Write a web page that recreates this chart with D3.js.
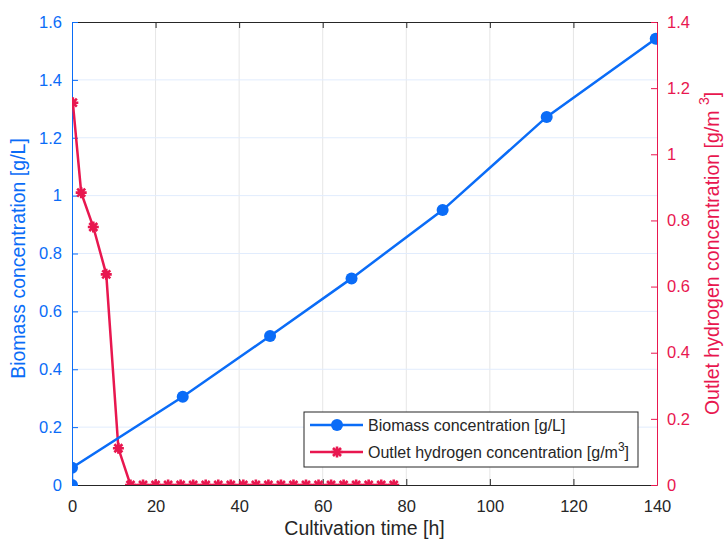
<!DOCTYPE html>
<html>
<head>
<meta charset="utf-8">
<script src="https://cdn.jsdelivr.net/npm/d3@7"></script>
<style>
  body { margin: 0; background: #fff; }
  svg { font-family: "Liberation Sans", Arial, sans-serif; }
</style>
</head>
<body>
<svg id="chart" width="727" height="542"></svg>
<script>
// time [h] and biomass [g/L]
var biomassTime = [0, 0, 26.5, 47.4, 66.9, 88.7, 113.6, 139.7];
var biomassConc = [0, 0.06, 0.305, 0.515, 0.714, 0.95, 1.272, 1.542];

// time [h] and outlet hydrogen [g/m3]
var hydrogenTime = [0.2, 2.2, 5.1, 8.2, 11.1, 14, 17, 20, 23, 26, 29, 32, 35, 38, 41, 44, 47, 50, 53, 56, 59, 62, 65, 68, 71, 74, 77];
var hydrogenConc = [1.156, 0.884, 0.78, 0.637, 0.111, 0, 0, 0, 0, 0, 0, 0, 0, 0, 0, 0, 0, 0, 0, 0, 0, 0, 0, 0, 0, 0, 0];

var xTicks = [0, 20, 40, 60, 80, 100, 120, 140];
var leftTicks = [0, 0.2, 0.4, 0.6, 0.8, 1, 1.2, 1.4, 1.6];
var rightTicks = [0, 0.2, 0.4, 0.6, 0.8, 1, 1.2, 1.4];

var blue = "#0a6cf7",
    red = "#e8174f",
    dark = "#262626";

var svg = d3.select("#chart");
var margin = { top: 22, right: 70, bottom: 57, left: 72 },
    width = +svg.attr("width") - margin.left - margin.right,
    height = +svg.attr("height") - margin.top - margin.bottom;

var x = d3.scaleLinear().domain([0, 140]).range([0, width]),
    yL = d3.scaleLinear().domain([0, 1.6]).range([height, 0]),
    yR = d3.scaleLinear().domain([0, 1.4]).range([height, 0]);

var g = svg.append("g")
    .attr("transform", "translate(" + margin.left + "," + margin.top + ")");

svg.append("defs").append("clipPath").attr("id", "plot-clip")
    .append("rect").attr("width", width).attr("height", height);

var fmt = function(d) { return String(+d.toFixed(1)); };

// grid
g.append("g").selectAll("line")
    .data(xTicks.slice(1, -1))
    .enter().append("line")
    .attr("x1", function(d) { return x(d); })
    .attr("x2", function(d) { return x(d); })
    .attr("y1", 0).attr("y2", height)
    .attr("stroke", "#e6e6e6").attr("stroke-width", 1);

g.append("g").selectAll("line")
    .data(leftTicks.slice(1, -1))
    .enter().append("line")
    .attr("x1", 0).attr("x2", width)
    .attr("y1", function(d) { return yL(d); })
    .attr("y2", function(d) { return yL(d); })
    .attr("stroke", "#e1ecfd").attr("stroke-width", 1);

// axes
var xAxis = g.append("g")
    .attr("transform", "translate(0," + height + ")")
    .call(d3.axisBottom(x).tickValues(xTicks).tickSize(-6).tickPadding(15).tickSizeOuter(0));
xAxis.select(".domain").attr("stroke", dark);
xAxis.selectAll(".tick line").attr("stroke", dark);
xAxis.selectAll("text").attr("fill", dark).style("font-size", "16.5px");

var xTop = g.append("g")
    .call(d3.axisTop(x).tickValues(xTicks).tickSize(-6).tickFormat("").tickSizeOuter(0));
xTop.select(".domain").attr("stroke", dark);
xTop.selectAll(".tick line").attr("stroke", dark);

var leftAxis = g.append("g")
    .call(d3.axisLeft(yL).tickValues(leftTicks).tickSize(-6).tickPadding(10).tickSizeOuter(0)
        .tickFormat(fmt));
leftAxis.select(".domain").attr("stroke", blue);
leftAxis.selectAll(".tick line").attr("stroke", blue);
leftAxis.selectAll("text").attr("fill", blue).style("font-size", "16.5px");

var rightAxis = g.append("g")
    .attr("transform", "translate(" + width + ",0)")
    .call(d3.axisRight(yR).tickValues(rightTicks).tickSize(-6).tickPadding(10).tickSizeOuter(0)
        .tickFormat(fmt));
rightAxis.select(".domain").attr("stroke", red);
rightAxis.selectAll(".tick line").attr("stroke", red);
rightAxis.selectAll("text").attr("fill", red).style("font-size", "16.5px");

// data
var plot = g.append("g").attr("clip-path", "url(#plot-clip)");

var biomass = biomassTime.map(function(t, i) { return [t, biomassConc[i]]; });
var hydrogen = hydrogenTime.map(function(t, i) { return [t, hydrogenConc[i]]; });

var starPath = "M-5.5,0L5.5,0M0,-5.5L0,5.5M-4,-4L4,4M-4,4L4,-4";

plot.append("path")
    .datum(hydrogen)
    .attr("fill", "none").attr("stroke", red).attr("stroke-width", 2.5)
    .attr("d", d3.line()
        .x(function(d) { return x(d[0]); })
        .y(function(d) { return yR(d[1]); }));

plot.selectAll(".h2")
    .data(hydrogen)
    .enter().append("path")
    .attr("class", "h2")
    .attr("transform", function(d) { return "translate(" + x(d[0]) + "," + yR(d[1]) + ")"; })
    .attr("d", starPath)
    .attr("stroke", red).attr("stroke-width", 2.6).attr("fill", "none");

plot.append("path")
    .datum(biomass)
    .attr("fill", "none").attr("stroke", blue).attr("stroke-width", 2.5)
    .attr("d", d3.line()
        .x(function(d) { return x(d[0]); })
        .y(function(d) { return yL(d[1]); }));

plot.selectAll(".bio")
    .data(biomass)
    .enter().append("circle")
    .attr("class", "bio")
    .attr("cx", function(d) { return x(d[0]); })
    .attr("cy", function(d) { return yL(d[1]); })
    .attr("r", 6)
    .attr("fill", blue);

// axis labels
g.append("text")
    .attr("x", width / 2).attr("y", height + 50)
    .attr("text-anchor", "middle")
    .attr("fill", dark).style("font-size", "19.5px")
    .text("Cultivation time [h]");

g.append("text")
    .attr("transform", "translate(-47," + (height / 2 + 5) + ") rotate(-90)")
    .attr("text-anchor", "middle")
    .attr("fill", blue).style("font-size", "19.5px")
    .text("Biomass concentration [g/L]");

var rLabel = g.append("text")
    .attr("transform", "translate(" + (width + 62) + "," + (height / 2) + ") rotate(-90)")
    .attr("text-anchor", "middle")
    .attr("fill", red).style("font-size", "19.5px");
rLabel.append("tspan").text("Outlet hydrogen concentration [g/m ");
rLabel.append("tspan").attr("dy", -10).style("font-size", "14px").text("3");
rLabel.append("tspan").attr("dy", 10).text("]");

// legend
var legend = g.append("g").attr("transform", "translate(232,390)");
legend.append("rect")
    .attr("width", 334).attr("height", 55)
    .attr("fill", "#fff").attr("stroke", dark).attr("stroke-width", 1);

var rows = [
    { color: blue, marker: "circle", label: "Biomass concentration [g/L]" },
    { color: red, marker: "star", label: "Outlet hydrogen concentration [g/m" }
];

rows.forEach(function(r, i) {
    var row = legend.append("g").attr("transform", "translate(0," + (13 + i * 27) + ")");
    row.append("line")
        .attr("x1", 6).attr("x2", 59)
        .attr("stroke", r.color).attr("stroke-width", 2.5);
    if (r.marker == "circle") {
        row.append("circle").attr("cx", 33).attr("r", 6).attr("fill", r.color);
    } else {
        row.append("path").attr("transform", "translate(33,0)")
            .attr("d", starPath).attr("stroke", r.color).attr("stroke-width", 2.6);
    }
    var t = row.append("text")
        .attr("x", 64).attr("dy", "0.35em")
        .attr("fill", dark).style("font-size", "16px")
        .text(r.label);
    if (i == 1) {
        t.append("tspan").attr("dy", -7).style("font-size", "12px").text("3");
        t.append("tspan").attr("dy", 7).text("]");
    }
});
</script>
</body>
</html>
